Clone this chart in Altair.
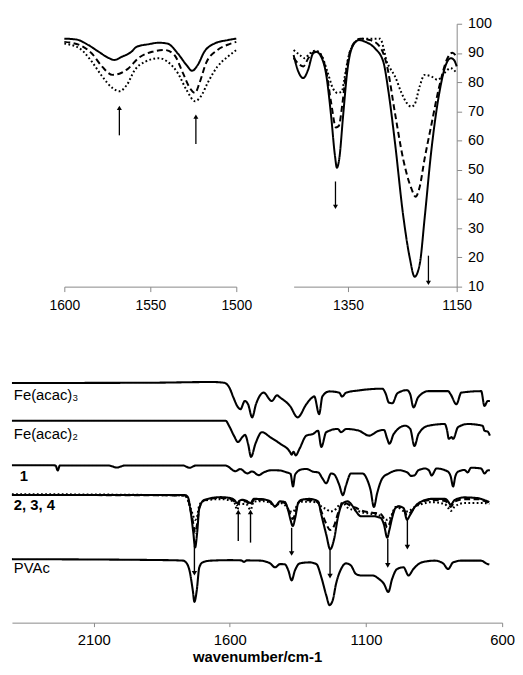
import altair as alt
import pandas as pd

# ---------------- top-left inset (1600-1500 cm-1), %T ----------------
TL_SOLID_WN = [1600, 1593, 1586, 1580, 1574, 1571, 1566.5, 1561, 1558, 1551, 1545, 1540, 1534, 1529, 1525.7, 1522.4, 1518.6, 1512.8, 1505, 1500]
TL_SOLID = [94.9, 94.6, 92.7, 90.4, 88.2, 87.6, 88.7, 90.4, 92.1, 93, 93.5, 93.2, 89.8, 85.9, 83.9, 85.9, 90.4, 93.2, 94.4, 94.9]
TL_DASH_WN = [1600, 1591, 1584, 1578, 1572, 1568, 1562.6, 1557, 1549, 1541.5, 1536, 1531, 1527, 1524, 1521.4, 1517.6, 1511, 1505, 1500]
TL_DASH = [93.8, 92.7, 89.8, 85.3, 82.5, 82.9, 84.8, 88.2, 90.4, 91, 89.3, 83.1, 78, 76.3, 79.7, 86.5, 91, 92.8, 93.8]
TL_DOT_WN = [1600, 1591, 1584, 1578, 1572, 1568, 1563.6, 1559, 1553, 1545, 1540, 1534, 1529, 1524, 1520.5, 1516.7, 1511, 1505, 1500]
TL_DOT = [93.2, 91.5, 87, 82, 78, 76.9, 79.1, 84.2, 87, 88.2, 87, 83.1, 77.4, 73.5, 75.2, 79.7, 85.3, 88.7, 91]
TL_ARROW_WN = [1568, 1523.5]
TL_ARROW_TAIL = [61.8, 58.8]
TL_ARROW_HEAD = [71.2, 68.2]

# ---------------- top-right inset (1450-1150 cm-1), %T ----------------
TR_SOLID_WN = [1450, 1441.5, 1432.4, 1423.4, 1414.4, 1408.4, 1399.3, 1390, 1381, 1374, 1370.4, 1366, 1359, 1351, 1342, 1330, 1318, 1300, 1285, 1276, 1263.6, 1248.6, 1236.4, 1227.4, 1218, 1209, 1197, 1182, 1170, 1161, 1155, 1150]
TR_SOLID = [89.3, 83.7, 81.4, 84.2, 89.8, 90.4, 88.7, 82.5, 68.4, 54.9, 50.7, 53.8, 68.4, 84.2, 92.1, 94.4, 93.8, 91.5, 87, 77.4, 59.4, 34.6, 19.9, 13.4, 17.7, 33.4, 56, 76.3, 85.9, 88.2, 87.6, 85.4]
TR_DASH_WN = [1450, 1438.6, 1432, 1423, 1411.4, 1402, 1390, 1381, 1372, 1367, 1360, 1353, 1342, 1327, 1309, 1291, 1278.6, 1263.6, 1248.6, 1233.4, 1225.6, 1218, 1209, 1197, 1182, 1167, 1158, 1150]
TR_DASH = [88.3, 85.9, 85.4, 88.2, 90.4, 89.8, 83.7, 73, 64.5, 65, 73, 84.2, 92.5, 94.9, 94.4, 92.1, 85.9, 69.5, 53.8, 43.6, 40.8, 44.2, 53.8, 65, 78.6, 88.2, 90.1, 88.7]
TR_DOT_WN = [1450, 1438.6, 1429.5, 1420.5, 1409.6, 1399, 1387, 1378, 1369, 1361, 1357, 1349, 1339, 1324, 1305.7, 1290.7, 1285, 1278.6, 1272.6, 1263.6, 1251.5, 1242.4, 1233.4, 1227.4, 1218, 1209, 1197, 1185, 1173, 1161, 1150]
TR_DOT = [91, 89.3, 88.2, 89.8, 90.8, 89.3, 83.1, 78, 76.3, 76.9, 80.8, 88.7, 93.2, 94.9, 94.9, 94.9, 92.1, 87, 84.8, 82, 76.3, 73, 71.6, 72.4, 78.6, 82.5, 82, 80.8, 83.1, 84.8, 83.1]
TR_ARROW_WN = [1373, 1202]
TR_ARROW_TAIL = [46, 20.6]
TR_ARROW_HEAD = [37.3, 11.3]

# ---------------- main panel: stacked spectra (offset, a.u.) ----------------
FE3_WN = [2400, 1899, 1663, 1621, 1602, 1587, 1573, 1561, 1545, 1533, 1518, 1504, 1476, 1446, 1427, 1415, 1379, 1351, 1319, 1297, 1290, 1272, 1260, 1235, 1198, 1188, 1173, 1126, 1040, 1028, 1016, 1003, 985, 949.5, 937.5, 925.5, 908.5, 871, 798.5, 789, 768, 750, 677, 665, 653, 645]
FE3 = [97.0, 97.1, 97.4, 97.1, 95.2, 91.2, 87.7, 86.4, 89.7, 88.4, 83.1, 88.4, 93.1, 89.7, 92, 91.1, 87.7, 83.1, 88.4, 91.2, 91.6, 84.4, 91.6, 93.6, 93.1, 91.5, 93.1, 94, 94.7, 92.8, 89.1, 88.8, 92.8, 94.1, 92.4, 87.1, 91.2, 93.7, 93.7, 92.4, 88.4, 93.1, 93.7, 87.7, 89.7, 89.7]

FE2_WN = [2400, 1899, 1615, 1603, 1585, 1570, 1554, 1544, 1533, 1522, 1506, 1482, 1452, 1415, 1379, 1373, 1366, 1358, 1344, 1319, 1294, 1276, 1264, 1246, 1203.5, 1191.5, 1173, 1126, 1089, 1052.5, 1034, 1022, 1014, 998, 956, 937.5, 922, 907, 871, 810.5, 802, 796, 786, 780, 762, 726, 671.5, 665, 653, 645]
FE2 = [81.7, 81.7, 81.7, 79.7, 75.7, 73.1, 75.1, 76, 72.4, 67.1, 72.4, 77.1, 75.1, 72.4, 69.1, 68, 69.2, 67.7, 70.4, 75.7, 76.4, 77.7, 71.1, 77.1, 78.4, 77.1, 78.4, 77.7, 75.7, 77.7, 78, 74.4, 72.4, 76.4, 79.7, 78.4, 71.5, 76.4, 79.7, 80.4, 77.7, 74.4, 75.1, 74.4, 79.1, 80.4, 79.7, 77.7, 77.3, 75.7]

S1_WN = [2400, 2255, 2240, 2232, 2224, 2044, 2015, 1986, 1772, 1748, 1725, 1616, 1579, 1562, 1536, 1518, 1494, 1476, 1446, 1417, 1391, 1377, 1368, 1360, 1337, 1319, 1294, 1275, 1260, 1246, 1228, 1217, 1198, 1185, 1173, 1155, 1113, 1095, 1083, 1071, 1059, 1040, 1016, 980, 948.4, 934, 922, 908.5, 883, 868.6, 859, 841, 800, 789, 780, 772, 762, 738, 727, 714, 677, 665, 653, 645]
S1 = [63.7, 63.7, 63.6, 61.6, 63.6, 63.6, 62.8, 63.6, 63.6, 62.7, 63.6, 63.6, 61.3, 62.2, 60.4, 61.2, 59.7, 60.8, 61.7, 61.6, 60.8, 60.2, 55.1, 60, 62, 62.2, 61.1, 60.8, 58.4, 56.4, 60.4, 60, 55.7, 51.6, 55.7, 60.4, 60.4, 57.7, 53.6, 46.8, 52.4, 58.4, 60.4, 61.7, 60.8, 59.4, 59.6, 61.6, 62.4, 61.6, 59.6, 62.4, 61.2, 59.2, 55.1, 59.2, 61.1, 61.8, 60.8, 62.7, 62.4, 60.4, 61.6, 61.7]

S234_WN = [2400, 1766, 1754, 1743, 1734, 1727.5, 1720, 1712, 1693, 1633, 1598, 1583, 1573, 1564, 1554.5, 1540, 1524, 1512, 1482, 1452, 1434, 1415.5, 1398, 1386, 1377, 1369, 1360, 1349, 1337, 1307, 1276, 1264, 1246, 1231.5, 1216, 1203.5, 1185, 1167, 1152, 1137, 1119, 1076.5, 1046, 1034, 1022, 1014, 1004, 992, 980, 962, 949.5, 937.5, 919, 895, 859, 810.5, 798.5, 789, 774, 738, 690, 665, 647]
S2 = [51.7, 51.7, 50.8, 44.4, 36.4, 30.4, 36.4, 46.4, 49.7, 50.8, 50.4, 49.6, 48.4, 49.4, 49.7, 49.4, 48.4, 50.1, 50, 49.1, 47.1, 49.1, 48.8, 45.6, 41.6, 39.1, 42.4, 48.4, 49.7, 50.1, 49.1, 43.7, 35.7, 29.7, 34.4, 42.4, 48.4, 49.1, 47.6, 45.1, 43.1, 43.1, 42.4, 39.7, 34.4, 37.6, 42.4, 46.4, 47.1, 46.4, 41.7, 43.7, 47.1, 49.1, 50.1, 50.1, 49.1, 47.7, 49.7, 50.7, 50.4, 49.6, 48.8]
S3 = [51.7, 51.5, 50, 45, 40, 36.4, 40, 46.4, 49.5, 50.5, 50, 49, 47.5, 49, 49.2, 49, 47.5, 49.6, 49.8, 48.8, 47, 48.8, 48.4, 46, 43.5, 42, 44, 48.4, 49.5, 49.6, 48.6, 45, 40, 37.5, 39.5, 44, 48.5, 48, 47, 46.5, 45.5, 44.5, 44, 42, 38.5, 40, 43.5, 46.4, 47, 46, 43.5, 44.5, 47, 48.8, 49.7, 49.3, 48.4, 46.8, 49, 50, 50, 49.2, 48.5]
S4 = [52, 51.5, 49.5, 46, 43, 41.6, 43, 47.5, 49.5, 50, 49.5, 48.5, 45.7, 48, 48, 48, 45.7, 49, 49.2, 48.5, 47, 48.5, 47.6, 46, 45, 44.8, 46, 48.4, 49, 49, 48.5, 47, 46, 45, 45.5, 47, 48.5, 46.5, 45.8, 45.6, 44.8, 44, 43.2, 42.4, 41.6, 42, 44, 46.8, 46.5, 45.2, 45, 45.5, 47, 48, 48.8, 48, 46.5, 45.2, 47, 48.4, 48.4, 48.4, 48]

PV_WN = [2400, 1827, 1772, 1758, 1748, 1736, 1730, 1721.4, 1712, 1700, 1669.5, 1597, 1558, 1548, 1538, 1488, 1452, 1434, 1415.5, 1398, 1385, 1373, 1361, 1343, 1307, 1282, 1264, 1246, 1234, 1222, 1210, 1191.5, 1173, 1155, 1137, 1119, 1076.5, 1052.5, 1034, 1018, 1004, 986, 962, 944, 926, 895, 847, 817, 798.5, 780, 750, 677, 659, 647]
PV = [25.7, 25.3, 25.1, 24, 21.1, 13.1, 8.4, 13.1, 22.4, 24.4, 25.1, 25.3, 25.2, 24.6, 25.2, 25.1, 24, 22.4, 23.7, 23.6, 21.1, 17.1, 21.1, 24, 24.4, 23.7, 18.4, 11.1, 7.1, 9.1, 15.7, 21.7, 24, 23.1, 19.7, 19.1, 19.1, 17.7, 15.7, 12.4, 17.7, 21.7, 22.4, 19.1, 21.7, 24.4, 25.1, 24, 21.7, 24.4, 25.1, 25.1, 24, 23.5]

UP_ARROW_WN = [1569, 1524]
UP_ARROW_TAIL = [33.1, 32.4]
UP_ARROW_HEAD = [44.8, 44.8]
DOWN_ARROW_WN = [1730, 1373, 1232, 1020, 948]
DOWN_ARROW_TAIL = [31.2, 38.4, 29.6, 34.0, 41.6]
DOWN_ARROW_HEAD = [20.0, 28.0, 18.8, 23.2, 30.6]

LABELS = ["Fe(acac)\u2083", "Fe(acac)\u2082", "1", "2, 3, 4", "PVAc"]
LABEL_WN = [2393, 2393, 2371, 2393, 2393]
LABEL_VAL = [92.3, 76.4, 59.5, 47.7, 22.0]
LABEL_BOLD = [False, False, True, True, False]

TOP_TICKS_L = [1600, 1550, 1500]
TOP_TICKS_R = [1350, 1150]
Y_TICKS = [10, 20, 30, 40, 50, 60, 70, 80, 90, 100]
MAIN_TICKS = [2100, 1600, 1100, 600]

FONT = "Liberation Sans"
GRAY = "#898989"

# layout of the three panels inside one 496 x 606 plot rectangle
W, H = 496, 606
TOP_H = 266
TL_RANGE = [53, 227]
TR_RANGE = [285, 450]
MAIN_RANGE = [0, W]
TOP_Y_RANGE = [TOP_H, 0]
MAIN_Y_RANGE = [H, 356]


def frame(parts):
    rows = []
    for series, style, wn, val in parts:
        for w, v in zip(wn, val):
            rows.append({"wn": w, "val": v, "series": series, "style": style})
    return pd.DataFrame(rows)


def arrows(wn, tail, head, shape):
    return pd.DataFrame({"wn": wn, "tail": tail, "head": head, "shape": [shape] * len(wn)})


DASH = alt.Scale(domain=["solid", "dashed", "dotted"], range=[[1, 0], [6, 3.5], [1.8, 2.4]])


def xaxis(ticks, size, offset):
    return alt.Axis(orient="bottom", offset=offset, values=ticks, title=None, format="d", grid=False,
                    domainColor=GRAY, tickColor=GRAY, tickSize=5, labelFontSize=size, labelPadding=7,
                    labelColor="#000", labelFont=FONT, labelFlush=False, labelOverlap=False)


def top_panel(df, arr, lo, hi, ticks, rng, show_y):
    xs = alt.Scale(domain=[lo, hi], reverse=True, nice=False, zero=False, range=rng)
    ys = alt.Scale(domain=[10, 100], nice=False, zero=False, range=TOP_Y_RANGE)
    if show_y:
        yax = alt.Axis(orient="right", offset=TR_RANGE[1] - W, values=Y_TICKS, title=None, grid=False,
                       domainColor=GRAY, tickColor=GRAY, tickSize=5, labelFontSize=14.5, labelPadding=6,
                       labelColor="#000", labelFont=FONT, labelFlush=False, labelOverlap=False)
    else:
        yax = None
    xax = xaxis(ticks, 14, TOP_H - H)
    lines = alt.Chart(df).mark_line(color="black", strokeWidth=2, interpolate="monotone").encode(
        x=alt.X("wn:Q", scale=xs, axis=xax),
        y=alt.Y("val:Q", scale=ys, axis=yax),
        strokeDash=alt.StrokeDash("style:N", scale=DASH, legend=None),
        detail="series:N",
    )
    rules = alt.Chart(arr).mark_rule(color="black", strokeWidth=1.3).encode(
        x=alt.X("wn:Q", scale=xs, axis=xax), y=alt.Y("tail:Q", scale=ys, axis=yax), y2="head:Q")
    heads = alt.Chart(arr).mark_point(filled=True, size=26, color="black", opacity=1).encode(
        x=alt.X("wn:Q", scale=xs, axis=xax), y=alt.Y("head:Q", scale=ys, axis=yax),
        shape=alt.Shape("shape:N", scale=None))
    return alt.layer(lines, rules, heads)


left_df = frame([("s", "solid", TL_SOLID_WN, TL_SOLID), ("d", "dashed", TL_DASH_WN, TL_DASH),
                 ("o", "dotted", TL_DOT_WN, TL_DOT)])
right_df = frame([("s", "solid", TR_SOLID_WN, TR_SOLID), ("d", "dashed", TR_DASH_WN, TR_DASH),
                  ("o", "dotted", TR_DOT_WN, TR_DOT)])

left = top_panel(left_df, arrows(TL_ARROW_WN, TL_ARROW_TAIL, TL_ARROW_HEAD, "triangle-up"),
                 1500, 1600, TOP_TICKS_L, TL_RANGE, False)
right = top_panel(right_df, arrows(TR_ARROW_WN, TR_ARROW_TAIL, TR_ARROW_HEAD, "triangle-down"),
                  1150, 1450, TOP_TICKS_R, TR_RANGE, True)

# main panel
main_df = frame([("Fe3", "solid", FE3_WN, FE3), ("Fe2", "solid", FE2_WN, FE2), ("1", "solid", S1_WN, S1),
                 ("4", "dotted", S234_WN, S4), ("3", "dashed", S234_WN, S3), ("2", "solid", S234_WN, S2),
                 ("PVAc", "solid", PV_WN, PV)])
mxs = alt.Scale(domain=[600, 2400], reverse=True, nice=False, zero=False, range=MAIN_RANGE)
mys = alt.Scale(domain=[0, 100], nice=False, zero=False, range=MAIN_Y_RANGE)
main_axis = alt.Axis(orient="bottom", offset=0, values=MAIN_TICKS, title="wavenumber/cm-1", format="d",
                     grid=False, domainColor=GRAY, tickColor=GRAY, tickSize=4, labelFontSize=15,
                     labelPadding=6, labelColor="#000", labelFont=FONT, labelFlush=False,
                     labelOverlap=False, titleFont=FONT, titleFontSize=15, titleFontWeight="bold",
                     titleColor="#000", titlePadding=2)
MX = alt.X("wn:Q", scale=mxs, axis=main_axis)

main_lines = alt.Chart(main_df).mark_line(color="black", strokeWidth=2.1, interpolate="monotone").encode(
    x=MX,
    y=alt.Y("val:Q", scale=mys, axis=None),
    strokeDash=alt.StrokeDash("style:N", scale=DASH, legend=None),
    detail="series:N",
)
arr_df = pd.concat([arrows(UP_ARROW_WN, UP_ARROW_TAIL, UP_ARROW_HEAD, "triangle-up"),
                    arrows(DOWN_ARROW_WN, DOWN_ARROW_TAIL, DOWN_ARROW_HEAD, "triangle-down")])
main_rules = alt.Chart(arr_df).mark_rule(color="black", strokeWidth=1.4).encode(
    x=MX, y=alt.Y("tail:Q", scale=mys, axis=None), y2="head:Q")
main_heads = alt.Chart(arr_df).mark_point(filled=True, size=30, color="black", opacity=1).encode(
    x=MX, y=alt.Y("head:Q", scale=mys, axis=None),
    shape=alt.Shape("shape:N", scale=None))

lab_df = pd.DataFrame({"label": LABELS, "wn": LABEL_WN, "val": LABEL_VAL, "bold": LABEL_BOLD})
lab_normal = alt.Chart(lab_df).transform_filter("!datum.bold").mark_text(
    align="left", baseline="middle", fontSize=15, font=FONT, color="#000").encode(
    x=MX, y=alt.Y("val:Q", scale=mys, axis=None), text="label:N")
lab_bold = alt.Chart(lab_df).transform_filter("datum.bold").mark_text(
    align="left", baseline="middle", fontSize=15, font=FONT, fontWeight="bold", color="#000").encode(
    x=MX, y=alt.Y("val:Q", scale=mys, axis=None), text="label:N")

main = alt.layer(main_lines, main_rules, main_heads, lab_normal, lab_bold)

chart = alt.layer(left, right, main).resolve_scale(
    x="independent", y="independent", strokeDash="shared", shape="shared"
).resolve_axis(x="independent", y="independent").properties(
    width=W, height=H,
    background="white",
    autosize=alt.AutoSizeParams(type="none"),
    padding={"left": 4, "top": 12, "right": 13, "bottom": 47},
).configure_view(strokeWidth=0)

chart.save("out.html", embed_options={"renderer": "svg", "actions": False})
